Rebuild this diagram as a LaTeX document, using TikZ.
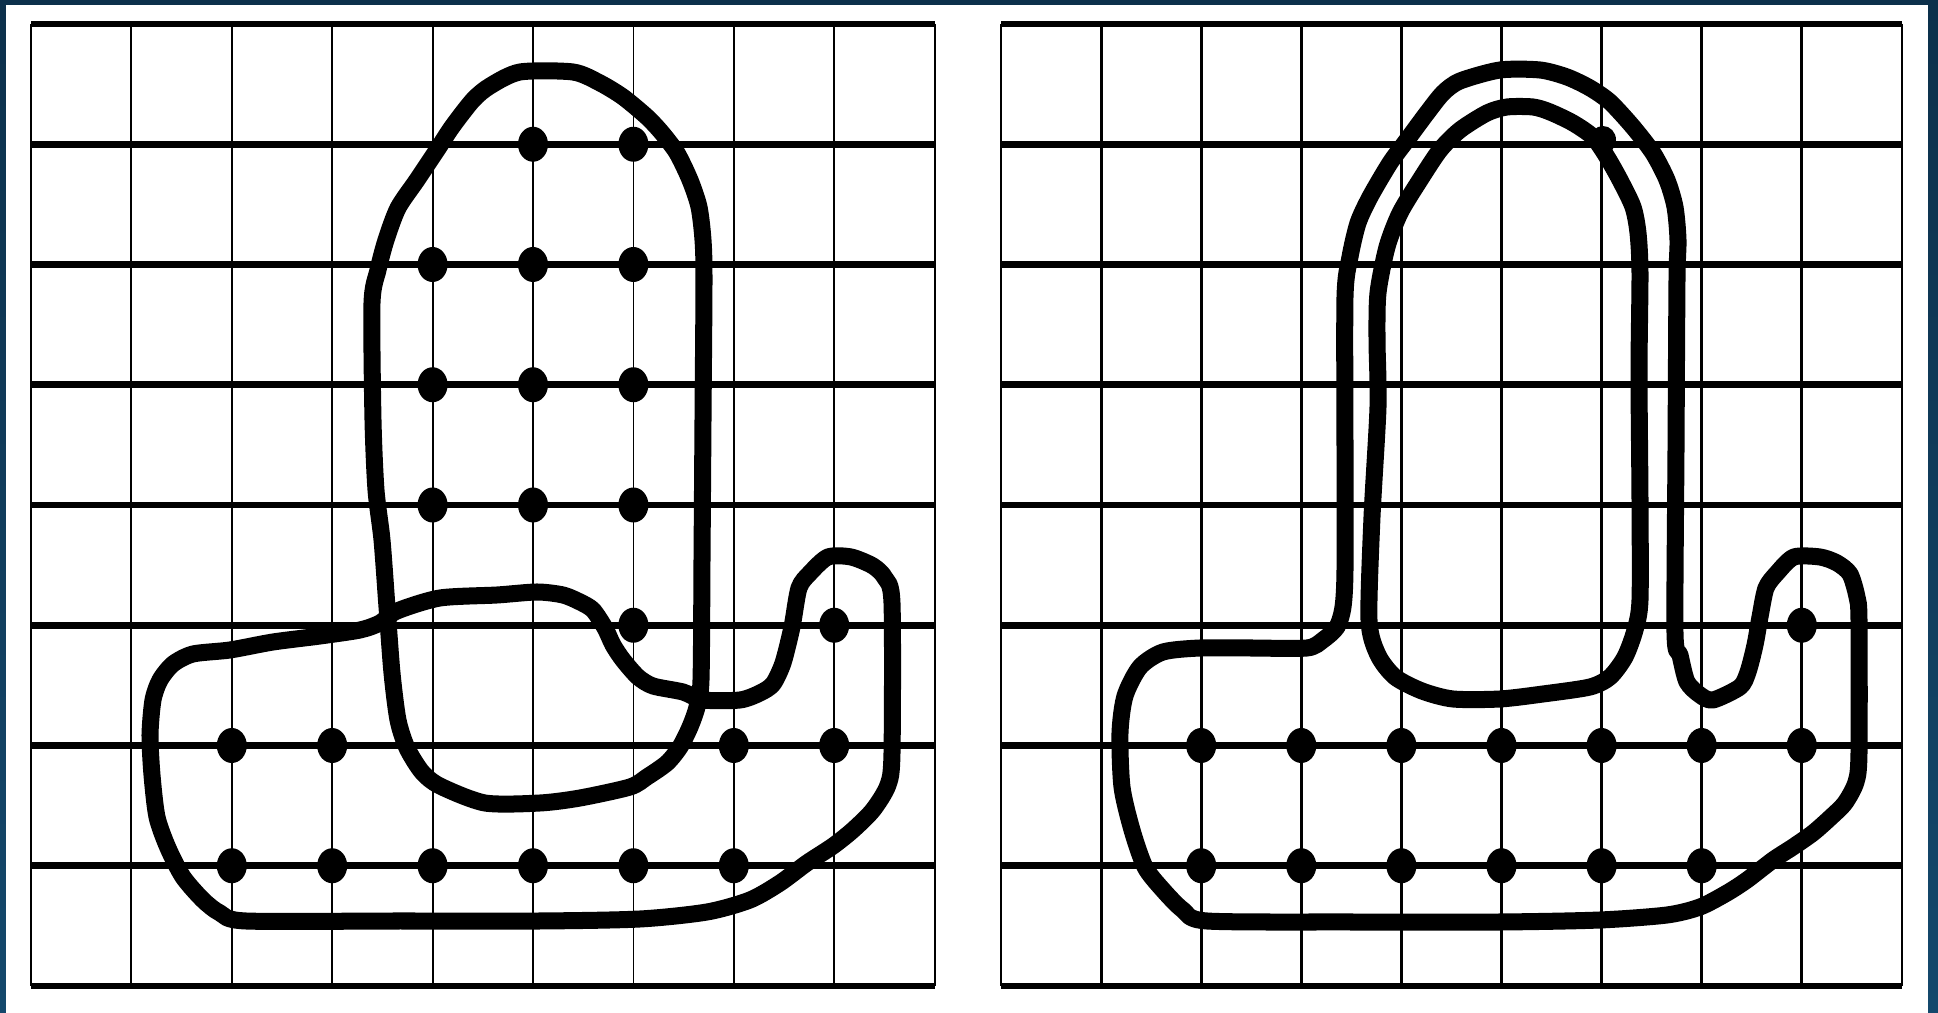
\documentclass[tikz,border=0pt]{standalone}
\definecolor{frametop}{RGB}{12,48,75}
\definecolor{framebot}{RGB}{20,72,108}
\begin{document}
\begin{tikzpicture}[x=0.01cm,y=-0.01cm,
  hline/.style={line width=0.066cm},
  vlineL/.style={line width=0.018cm},
  vlineR/.style={line width=0.028cm},
  blob/.style={line width=0.17cm, line join=round},
  gdot/.style={fill=black}]
\useasboundingbox (0,0) rectangle (1938,1013);
\shade[top color=frametop, bottom color=framebot] (0,0) rectangle (1938,1013);
\fill[white] (6,5) rectangle (1928,1013);
% ---------- left grid ----------
\foreach \i in {0,...,9} \draw[vlineL] ({31+100.4*\i},24) -- ({31+100.4*\i},986);
\foreach \j in {0,...,8} \draw[hline] (31,{24+120.25*\j}) -- (934.6,{24+120.25*\j});
% ---------- right grid ----------
\foreach \i in {0,...,9} \draw[vlineR] ({1001+100.1*\i},24) -- ({1001+100.1*\i},986);
\foreach \j in {0,...,8} \draw[hline] (1001,{24+120.25*\j}) -- (1902,{24+120.25*\j});
% ---------- left dots ----------
\foreach \i/\j in {5/1,6/1,4/2,5/2,6/2,4/3,5/3,6/3,4/4,5/4,6/4,6/5,8/5,2/6,3/6,7/6,8/6,2/7,3/7,4/7,5/7,6/7,7/7}
  \fill[gdot] ({31+100.4*\i},{24+120.25*\j}) ellipse [x radius=0.15cm, y radius=0.175cm];
% ---------- right dots ----------
\foreach \i/\j in {8/5,2/6,3/6,4/6,5/6,6/6,7/6,8/6,2/7,3/7,4/7,5/7,6/7,7/7}
  \fill[gdot] ({1001+100.1*\i},{24+120.25*\j}) ellipse [x radius=0.15cm, y radius=0.175cm];
\fill[gdot] (1603,140) ellipse [x radius=0.13cm, y radius=0.14cm];
% ---------- left shape A ----------
\draw[blob] plot[smooth cycle, tension=0.45] coordinates {
(372,303) (378,270) (386,240) (398,208) (417,180) (437,150) (452,127) (473,100) (490,86) (520,72) (573,72) (600,83) (623,97) (647,117) (662,133) (677,153) (690,180) (699,207) (703,240) (704,280) (703,420) (702,560) (701,680) (697,707) (690,727) (680,747) (667,763) (647,777) (630,787) (580,798) (540,803) (485,803) (440,786) (422,772) (407,748) (398,720) (392,673) (387,607) (382,540) (376,490) (373,420)};
% ---------- left shape B ----------
\draw[blob] plot[smooth cycle, tension=0.45] coordinates {
(150,735) (153,700) (160,680) (173,664) (193,654) (230,650) (273,642) (320,636) (360,630) (380,623) (397,611) (440,598) (497,595) (537,592) (563,595) (580,602) (593,610) (605,628) (613,645) (623,660) (638,677) (653,686) (683,692) (703,700) (740,700) (760,693) (773,684) (783,663) (792,627) (799,588) (810,573) (828,557) (851,557) (873,566) (885,578) (892,603) (892,753) (888,785) (873,810) (853,830) (833,846) (807,863) (780,883) (750,900) (707,912) (640,919) (540,921) (400,921) (246,921) (220,913) (203,900) (183,877) (168,848) (157,817) (152,775)};
% ---------- right outer shape ----------
\draw[blob] plot[smooth cycle, tension=0.45] coordinates {
(1500,70) (1540,70) (1567,77) (1590,88) (1610,102) (1633,127) (1653,153) (1667,180) (1675,207) (1678,240) (1677,280) (1676,450) (1675,633) (1680,655) (1687,682) (1700,695) (1713,700) (1740,687) (1748,672) (1755,645) (1760,617) (1766,588) (1777,573) (1794,557) (1820,557) (1837,563) (1850,574) (1857,597) (1859,620) (1859,753) (1856,782) (1845,803) (1830,818) (1813,833) (1793,847) (1773,860) (1747,880) (1727,893) (1700,907) (1667,915) (1600,920) (1500,922) (1350,922) (1207,921) (1183,910) (1163,890) (1145,867) (1132,830) (1122,787) (1120,733) (1125,696) (1140,667) (1163,652) (1200,648) (1250,648) (1307,648) (1323,640) (1337,627) (1343,607) (1345,570) (1345,450) (1345,297) (1350,257) (1358,223) (1370,197) (1390,163) (1407,140) (1427,113) (1443,93) (1460,81)};
% ---------- right inner shape ----------
\draw[blob] plot[smooth cycle, tension=0.45] coordinates {
(1507,107) (1533,107) (1550,112) (1573,123) (1593,137) (1607,157) (1620,180) (1633,207) (1638,233) (1640,273) (1639,373) (1640,500) (1640,600) (1635,630) (1625,657) (1610,677) (1590,687) (1543,694) (1500,699) (1453,699) (1422,691) (1395,677) (1378,655) (1369,620) (1372,517) (1378,407) (1377,340) (1378,293) (1387,247) (1400,213) (1420,180) (1440,150) (1460,130) (1487,113)};
\end{tikzpicture}
\end{document}
